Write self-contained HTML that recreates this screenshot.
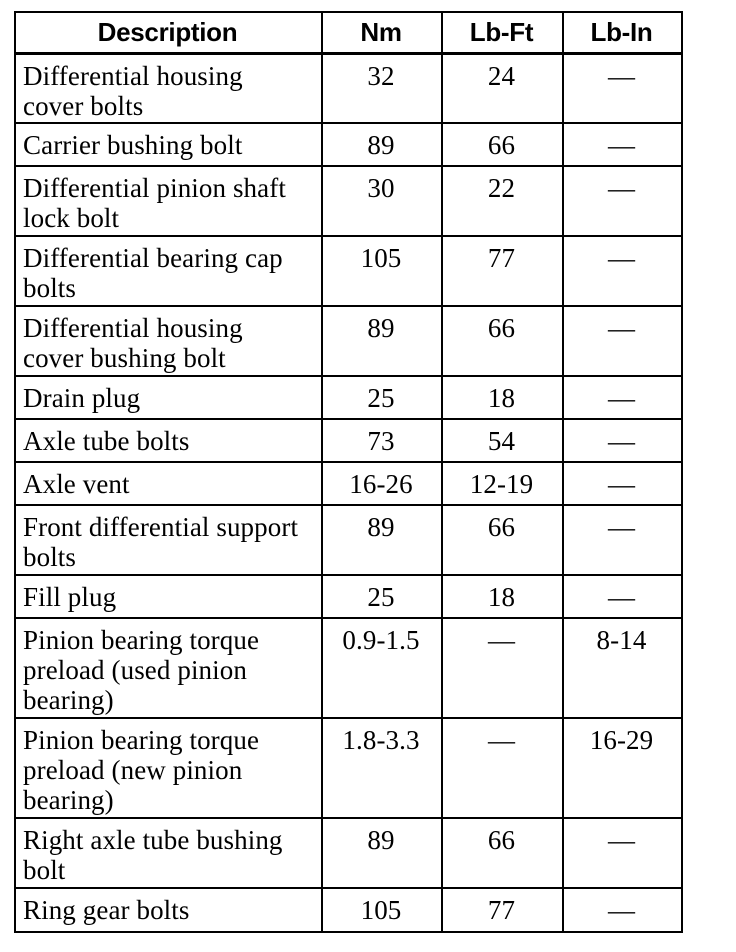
<!DOCTYPE html>
<html><head><meta charset="utf-8"><style>
body{margin:0;background:#fff;width:736px;height:952px;position:relative;overflow:hidden}
.v{position:absolute;background:#000;width:2px}
.h{position:absolute;background:#000;height:2px;left:14px;width:669px}
.t{position:absolute;font-family:"Liberation Serif",serif;font-size:27px;line-height:30px;color:#000;letter-spacing:0.1px;white-space:nowrap}
.c{text-align:center}
.hd{position:absolute;font-family:"Liberation Sans",sans-serif;font-weight:bold;font-size:26px;top:17px;text-align:center;letter-spacing:-0.3px}
</style></head><body>
<div class="v" style="left:14px;top:11px;height:922px"></div>
<div class="v" style="left:321px;top:11px;height:922px"></div>
<div class="v" style="left:441px;top:11px;height:922px"></div>
<div class="v" style="left:562px;top:11px;height:922px"></div>
<div class="v" style="left:681px;top:11px;height:922px"></div>
<div class="h" style="top:11px"></div>
<div class="h" style="top:52px;height:3px"></div>
<div class="h" style="top:122px"></div>
<div class="h" style="top:165px"></div>
<div class="h" style="top:235px"></div>
<div class="h" style="top:305px"></div>
<div class="h" style="top:375px"></div>
<div class="h" style="top:418px"></div>
<div class="h" style="top:461px"></div>
<div class="h" style="top:504px"></div>
<div class="h" style="top:574px"></div>
<div class="h" style="top:617px"></div>
<div class="h" style="top:717px"></div>
<div class="h" style="top:817px"></div>
<div class="h" style="top:887px"></div>
<div class="h" style="top:931px"></div>

<div class="hd" style="left:14px;width:307px">Description</div>
<div class="hd" style="left:321px;width:120px">Nm</div>
<div class="hd" style="left:441px;width:121px">Lb-Ft</div>
<div class="hd" style="left:562px;width:119px">Lb-In</div>

<div id="rows"></div>
<script>
var rows=[
[55,"Differential housing<br>cover bolts","32","24","—"],
[124,"Carrier bushing bolt","89","66","—"],
[167,"Differential pinion shaft<br>lock bolt","30","22","—"],
[237,"Differential bearing cap<br>bolts","105","77","—"],
[307,"Differential housing<br>cover bushing bolt","89","66","—"],
[377,"Drain plug","25","18","—"],
[420,"Axle tube bolts","73","54","—"],
[463,"Axle vent","16-26","12-19","—"],
[506,"Front differential support<br>bolts","89","66","—"],
[576,"Fill plug","25","18","—"],
[619,"Pinion bearing torque<br>preload (used pinion<br>bearing)","0.9-1.5","—","8-14"],
[719,"Pinion bearing torque<br>preload (new pinion<br>bearing)","1.8-3.3","—","16-29"],
[819,"Right axle tube bushing<br>bolt","89","66","—"],
[889,"Ring gear bolts","105","77","—"]];
var h="";
rows.forEach(function(r){
 var y=r[0]+6;
 h+='<div class="t" style="left:23px;top:'+y+'px">'+r[1]+'</div>';
 h+='<div class="t c" style="left:321px;width:120px;top:'+y+'px">'+r[2]+'</div>';
 h+='<div class="t c" style="left:441px;width:121px;top:'+y+'px">'+r[3]+'</div>';
 h+='<div class="t c" style="left:562px;width:119px;top:'+y+'px">'+r[4]+'</div>';
});
document.getElementById("rows").innerHTML=h;
</script>
</body></html>
